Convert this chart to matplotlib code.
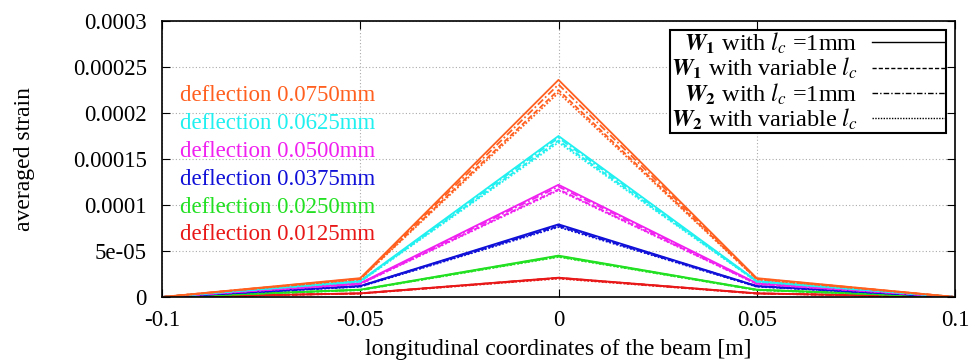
import matplotlib
matplotlib.use("Agg")
import matplotlib.pyplot as plt
from matplotlib.lines import Line2D

plt.rcParams['font.family'] = ['Liberation Serif', 'DejaVu Serif']
plt.rcParams['mathtext.fontset'] = 'stix'

x = [-0.1, -0.05, 0.0, 0.05, 0.1]
deflections = ["0.0125", "0.0250", "0.0375", "0.0500", "0.0625", "0.0750"]
colors = ["#e81818", "#22e022", "#1010d8", "#f020f0", "#20f0f0", "#ff6020"]

# strain values per deflection, per model variant
w1_fixed = [
    [0, 4.0e-6, 2.1e-5, 4.0e-6, 0],
    [0, 8.0e-6, 4.5e-5, 8.0e-6, 0],
    [0, 1.2e-5, 7.9e-5, 1.2e-5, 0],
    [0, 1.5e-5, 1.22e-4, 1.5e-5, 0],
    [0, 1.75e-5, 1.75e-4, 1.75e-5, 0],
    [0, 2.05e-5, 2.36e-4, 2.05e-5, 0],
]
w1_var = [
    [0, 3.8e-6, 2.05e-5, 3.8e-6, 0],
    [0, 7.6e-6, 4.4e-5, 7.6e-6, 0],
    [0, 1.15e-5, 7.7e-5, 1.15e-5, 0],
    [0, 1.42e-5, 1.17e-4, 1.42e-5, 0],
    [0, 1.68e-5, 1.70e-4, 1.68e-5, 0],
    [0, 1.95e-5, 2.25e-4, 1.95e-5, 0],
]
w2_fixed = [
    [0, 3.9e-6, 2.08e-5, 3.9e-6, 0],
    [0, 7.8e-6, 4.45e-5, 7.8e-6, 0],
    [0, 1.18e-5, 7.8e-5, 1.18e-5, 0],
    [0, 1.46e-5, 1.20e-4, 1.46e-5, 0],
    [0, 1.72e-5, 1.73e-4, 1.72e-5, 0],
    [0, 2.0e-5, 2.31e-4, 2.0e-5, 0],
]
w2_var = [
    [0, 3.7e-6, 2.0e-5, 3.7e-6, 0],
    [0, 7.5e-6, 4.35e-5, 7.5e-6, 0],
    [0, 1.12e-5, 7.6e-5, 1.12e-5, 0],
    [0, 1.40e-5, 1.16e-4, 1.40e-5, 0],
    [0, 1.65e-5, 1.68e-4, 1.65e-5, 0],
    [0, 1.92e-5, 2.22e-4, 1.92e-5, 0],
]

xticks = [-0.1, -0.05, 0, 0.05, 0.1]
xticklabels = ["-0.1", "-0.05", "0", "0.05", "0.1"]
yticks = [0, 5e-5, 1e-4, 1.5e-4, 2e-4, 2.5e-4, 3e-4]
yticklabels = ["0", "5e-05", "0.0001", "0.00015", "0.0002", "0.00025", "0.0003"]

legend_labels = [r"$\mathbfit{W}_{\mathbf{1}}$ with $l_c$ =1mm",
                 r"$\mathbfit{W}_{\mathbf{1}}$ with variable $l_c$",
                 r"$\mathbfit{W}_{\mathbf{2}}$ with $l_c$ =1mm",
                 r"$\mathbfit{W}_{\mathbf{2}}$ with variable $l_c$"]
styles = ["-", (0, (3, 1.5)), (0, (4, 1.5, 1, 1.5)), (0, (1, 1))]

fig = plt.figure(figsize=(9.74, 3.64), dpi=100)
ax = fig.add_axes([162/974, 1 - 297/364, (955-162)/974, (297-21)/364])

for i, c in enumerate(colors):
    for data, ls in zip([w2_var, w2_fixed, w1_var, w1_fixed], styles[::-1]):
        ax.plot(x, data[i], color=c, ls=ls, lw=1.3)

for i, (d, c) in enumerate(zip(deflections[::-1], colors[::-1])):
    ax.text(-0.0955, 2.19e-4 - i * 3.03e-5, f"deflection {d}mm", color=c,
            fontsize=16.5, va='center', ha='left')

ax.set_xlim(-0.1, 0.1)
ax.set_ylim(0, 3e-4)
ax.set_xticks(xticks)
ax.set_xticklabels(xticklabels)
ax.set_yticks(yticks)
ax.set_yticklabels(yticklabels)
ax.tick_params(direction='in', top=True, right=True, labelsize=16.5, length=6)
ax.tick_params(axis='x', pad=9)
ax.tick_params(axis='y', pad=11)
ax.grid(True, color='#aaaaaa', ls=(0, (1, 2)), lw=0.8)
for s in ax.spines.values():
    s.set_linewidth(1.2)

ax.set_xlabel("longitudinal coordinates of the beam [m]", fontsize=17)
ax.set_ylabel("averaged strain", fontsize=17)
ax.xaxis.set_label_coords(0.5, -0.152)
ax.yaxis.set_label_coords(-0.16, 0.5)

handles = [Line2D([0], [0], color='black', ls=ls, lw=1.0) for ls in styles]
leg = ax.legend(handles, legend_labels, loc='upper right', markerfirst=False,
                fontsize=17.5, frameon=True, fancybox=False, edgecolor='black',
                framealpha=1, handlelength=3.0, borderpad=0.05, labelspacing=0.0,
                handletextpad=0.6, borderaxespad=0.35)
leg.get_frame().set_linewidth(1.5)
for t in leg.get_texts():
    t.set_ha('right')
leg._legend_box.align = "right"

fig.savefig("out.png", dpi=100)
